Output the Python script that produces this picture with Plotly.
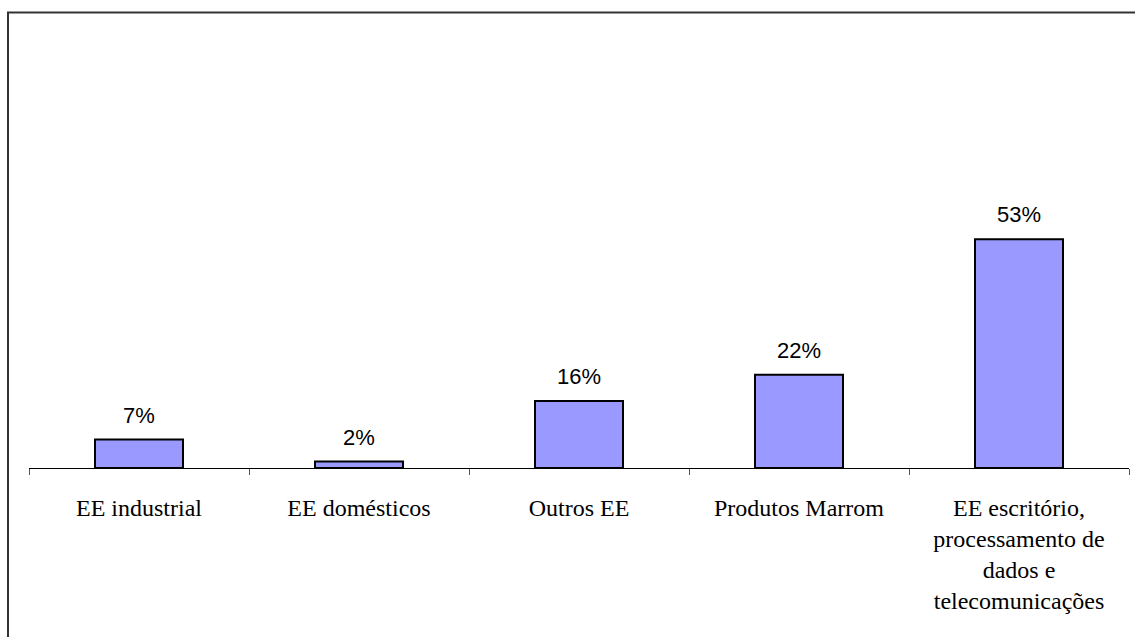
import plotly.graph_objects as go

categories = ["EE industrial", "EE domésticos", "Outros EE", "Produtos Marrom",
              "EE escritório,<br>processamento de<br>dados e<br>telecomunicações"]
values = [6.6, 1.5, 15.6, 21.7, 53.2]
labels = ["7%", "2%", "16%", "22%", "53%"]

W, H = 1135, 637
ml, mr, mt, mb = 29, 6, 30, 169
pw, ph = W - ml - mr, H - mt - mb

fig = go.Figure()
fig.add_trace(go.Bar(
    x=categories, y=values, width=0.4,
    marker=dict(color="#9999FF", line=dict(color="black", width=2)),
    hoverinfo="skip",
))
for c, v, t in zip(categories, values, labels):
    fig.add_annotation(x=c, y=v, text=t, showarrow=False, yanchor="bottom",
                       yshift=10, font=dict(family="Liberation Sans", size=22, color="black"))

# outer border (only top and left visible in frame)
fig.add_shape(type="rect", xref="paper", yref="paper",
              x0=(8 - ml) / pw, x1=1.2, y0=-0.6, y1=1 + (mt - 12.5) / ph,
              line=dict(color="#333333", width=2), layer="above")

fig.update_layout(
    width=W, height=H, margin=dict(l=ml, r=mr, t=mt, b=mb),
    paper_bgcolor="white", plot_bgcolor="white", showlegend=False,
    bargap=0.6,
)
fig.update_xaxes(showline=True, linecolor="black", linewidth=1,
                 ticks="outside", tickson="boundaries", ticklen=6, tickcolor="#555555",
                 tickfont=dict(family="Liberation Serif", size=24, color="black"),
                 ticklabelstandoff=18, showgrid=False, fixedrange=True)
fig.update_yaxes(range=[0, ph / 4.3], visible=False, showgrid=False, fixedrange=True)

fig.write_html("out.html")
